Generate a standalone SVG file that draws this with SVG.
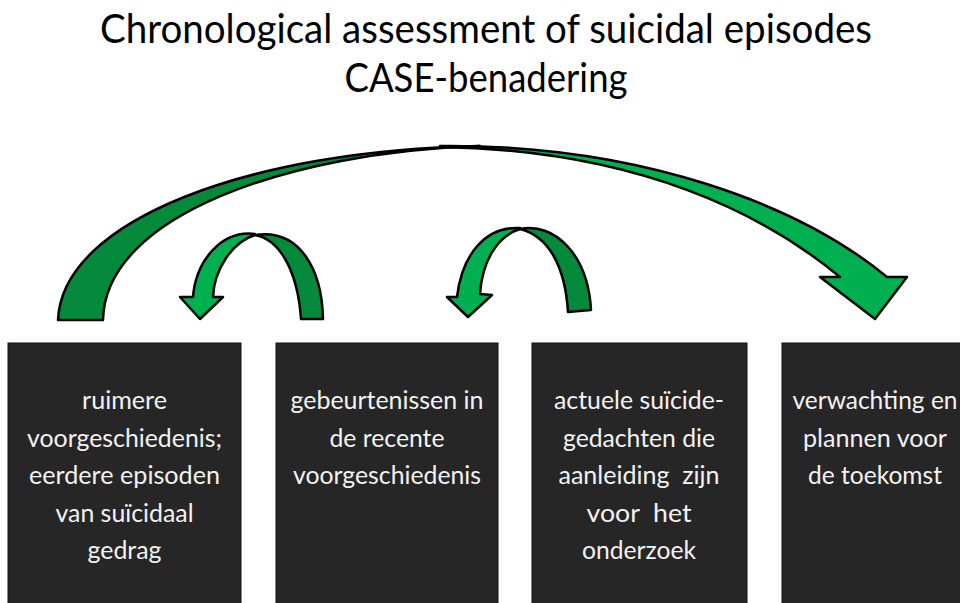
<svg xmlns="http://www.w3.org/2000/svg" width="960" height="603" viewBox="0 0 960 603">
<style>
.title{font-family:Lato,"Open Sans","Liberation Sans",sans-serif;font-size:41px;fill:#000;text-anchor:middle}
.box{fill:#262626;stroke:#111;stroke-width:1}
.lbl{font-family:Lato,"Open Sans","Liberation Sans",sans-serif;font-size:25px;fill:#f2f2f2;text-anchor:middle;white-space:pre}
.dark{fill:#058a3c;stroke:#000;stroke-width:2.5;stroke-linejoin:round}
.bright{fill:#00b050;stroke:#000;stroke-width:2.5;stroke-linejoin:round}
</style>
<rect width="960" height="603" fill="#fff"/>
<g id="title">
<text class="title" x="486" y="43" textLength="772" lengthAdjust="spacingAndGlyphs">Chronological assessment of suicidal episodes</text>
<text class="title" x="486" y="92" textLength="283" lengthAdjust="spacingAndGlyphs">CASE-benadering</text>
</g>
<g id="connectors">
<g id="arrow-big">
<path class="dark" d="M58,320 C62,220 250,150 480,146 C290,152 105,215 103,320 Z"/>
<path class="bright" d="M440,146 C640,144 800,205 887,277 L907,277 L875,319 L820,277 L840,277 C765,215 640,150 440,147 Z"/>
</g>
<g id="arrow-small-1">
<path class="dark" d="M255,235 C300,228 322,270 323,319 L301,319 C298,275 282,240 255,235 Z"/>
<path class="bright" d="M255,234 C222,230 196,260 193,297 L180,297 L200,319 L223,297 L213,297 C214,270 232,242 255,235 Z"/>
</g>
<g id="arrow-small-2">
<path class="dark" d="M520,229 C555,222 588,255 591,310 L568,312 C565,265 548,236 520,229 Z"/>
<path class="bright" d="M520,228 C485,226 462,255 457,297 L447,297 L468,317 L492,295 L480,294 C482,262 497,236 520,229 Z"/>
</g>
</g>
<g id="node-1">
<rect class="box" x="8" y="343" width="233" height="270"/>
<text class="lbl" x="124.5" y="409" textLength="85" lengthAdjust="spacingAndGlyphs">ruimere</text>
<text class="lbl" x="124.5" y="446.5" textLength="195" lengthAdjust="spacingAndGlyphs">voorgeschiedenis;</text>
<text class="lbl" x="124.5" y="484" textLength="191" lengthAdjust="spacingAndGlyphs">eerdere episoden</text>
<text class="lbl" x="124.5" y="521.5" textLength="138" lengthAdjust="spacingAndGlyphs">van suïcidaal</text>
<text class="lbl" x="124.5" y="559" textLength="74" lengthAdjust="spacingAndGlyphs">gedrag</text>
</g>
<g id="node-2">
<rect class="box" x="276" y="343" width="222" height="270"/>
<text class="lbl" x="387" y="409" textLength="193" lengthAdjust="spacingAndGlyphs">gebeurtenissen in</text>
<text class="lbl" x="387" y="446.5" textLength="115" lengthAdjust="spacingAndGlyphs">de recente</text>
<text class="lbl" x="387" y="484" textLength="188" lengthAdjust="spacingAndGlyphs">voorgeschiedenis</text>
</g>
<g id="node-3">
<rect class="box" x="532" y="343" width="215" height="270"/>
<text class="lbl" x="639" y="409" textLength="170" lengthAdjust="spacingAndGlyphs">actuele suïcide-</text>
<text class="lbl" x="639" y="446.5" textLength="152" lengthAdjust="spacingAndGlyphs">gedachten die</text>
<text class="lbl" x="639" y="484" textLength="161" lengthAdjust="spacingAndGlyphs" xml:space="preserve">aanleiding  zijn</text>
<text class="lbl" x="639" y="521.5" textLength="105" lengthAdjust="spacingAndGlyphs" xml:space="preserve">voor  het</text>
<text class="lbl" x="639" y="559" textLength="114" lengthAdjust="spacingAndGlyphs">onderzoek</text>
</g>
<g id="node-4">
<rect class="box" x="782" y="343" width="190" height="270"/>
<text class="lbl" x="875" y="409" textLength="165" lengthAdjust="spacingAndGlyphs">verwachting en</text>
<text class="lbl" x="875" y="446.5" textLength="144" lengthAdjust="spacingAndGlyphs">plannen voor</text>
<text class="lbl" x="875" y="484" textLength="134" lengthAdjust="spacingAndGlyphs">de toekomst</text>
</g>
</svg>
